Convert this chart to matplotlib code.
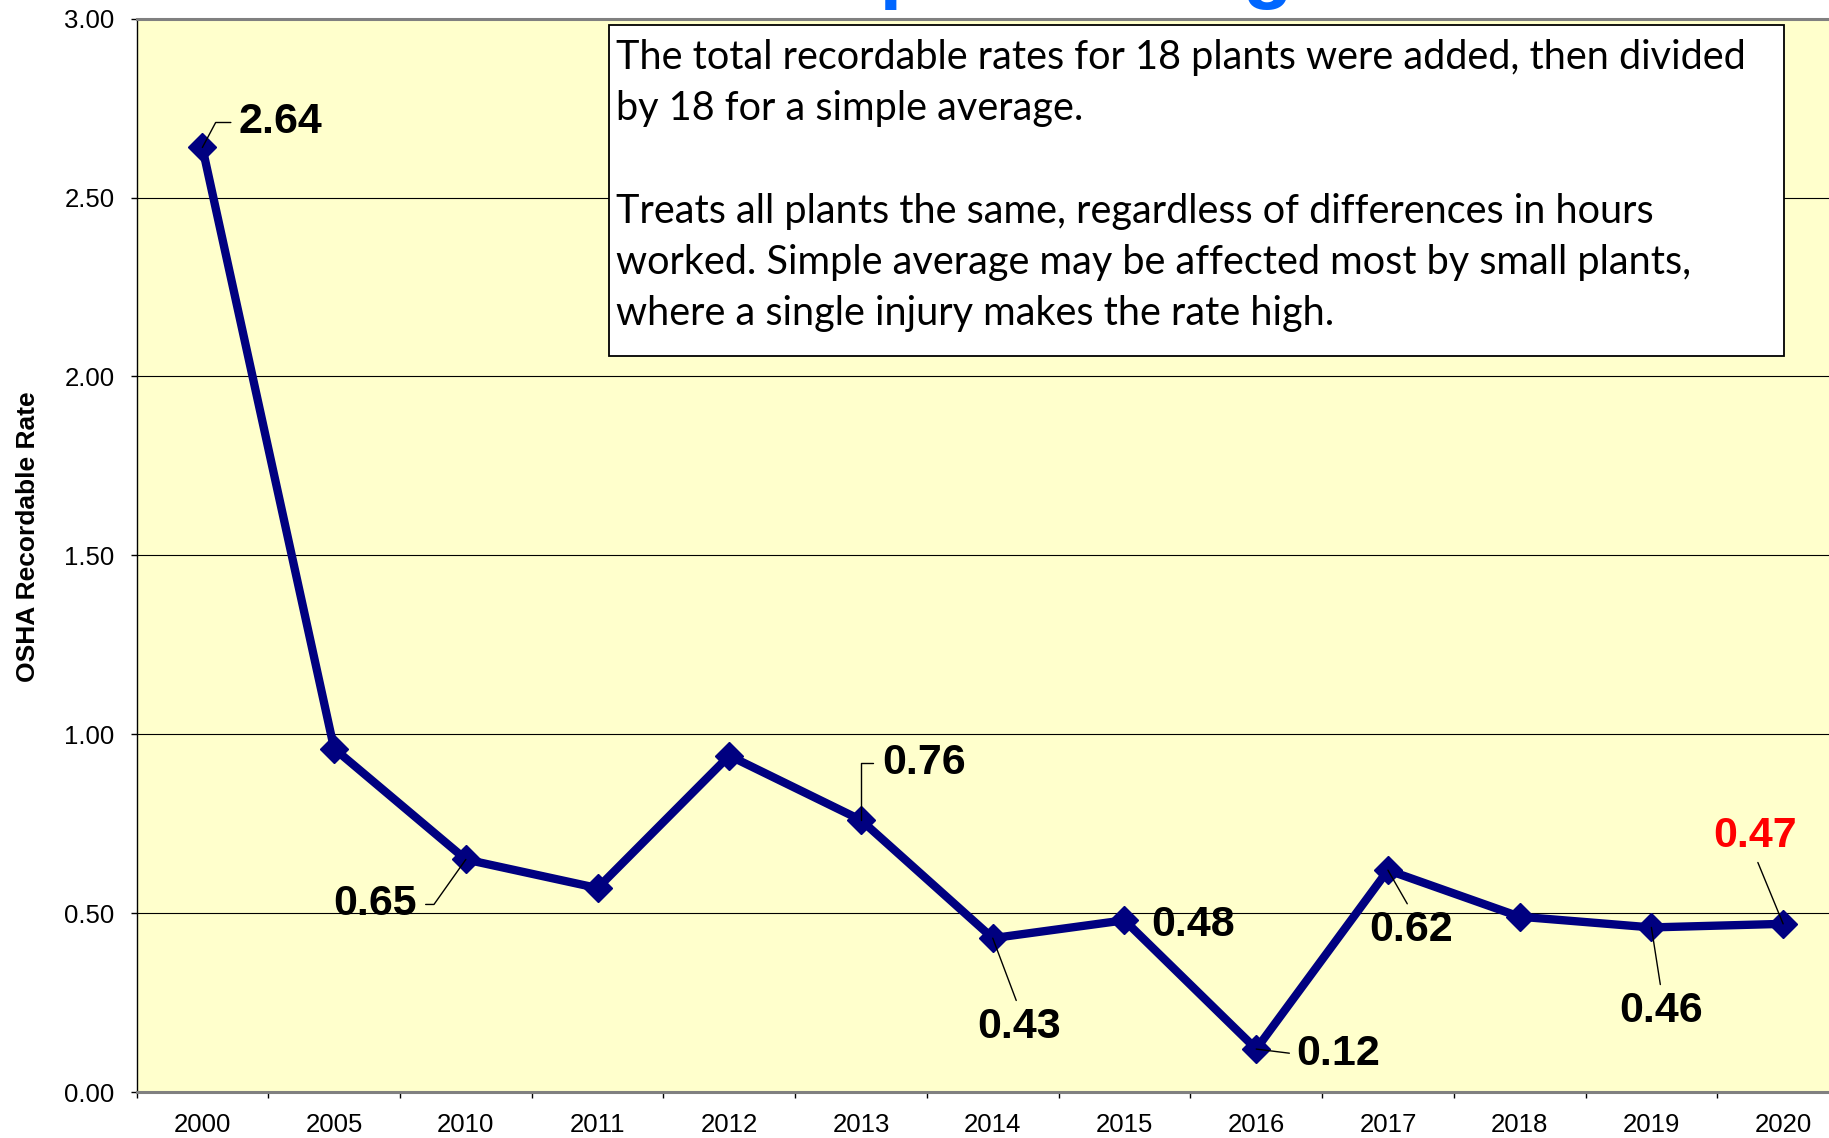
import matplotlib
matplotlib.use('Agg')
import matplotlib.pyplot as plt
from matplotlib.patches import Rectangle
import numpy as np

# ---------------- data ----------------
years = ['2000', '2005', '2010', '2011', '2012', '2013', '2014',
         '2015', '2016', '2017', '2018', '2019', '2020']
rates = [2.64, 0.96, 0.65, 0.57, 0.94, 0.76, 0.43, 0.48, 0.12, 0.62, 0.49, 0.46, 0.47]
y_ticks = [0.0, 0.5, 1.0, 1.5, 2.0, 2.5, 3.0]
labeled_years = ['2000', '2010', '2013', '2014', '2015', '2016', '2017', '2019', '2020']
label_texts = ['2.64', '0.65', '0.76', '0.43', '0.48', '0.12', '0.62', '0.46', '0.47']
title = 'Simple Average'
ylabel = 'OSHA Recordable Rate'
note_lines = [
    'The total recordable rates for 18 plants were added, then divided',
    'by 18 for a simple average.',
    '',
    'Treats all plants the same, regardless of differences in hours',
    'worked. Simple average may be affected most by small plants,',
    'where a single injury makes the rate high.',
]

# ---------------- layout / style ----------------
W, H, DPI = 1829, 1138, 100
plt.rcParams['font.family'] = ['Liberation Sans', 'DejaVu Sans']

def pt(v):
    return v * 72.0 / DPI

# label placement: (dx px, dy px down) from point to text baseline-centre,
# relpos on text, connection style (None = no leader), shrinkA
label_layout = {
    '2000': (78, -14, (0, 0.5), 'angle,angleA=0,angleB=62', 3.5),
    '2010': (-91, 56, (1, 0.5), 'angle,angleA=0,angleB=54.7', 4.5),
    '2013': (63, -46, (0, 0.5), 'angle,angleA=0,angleB=90', 4.5),
    '2014': (26, 100, (0.5, 1), 'arc3', 3.0),
    '2015': (69, 16, None, None, 0),
    '2016': (82, 16, (0, 0.5), 'arc3', 3.0),
    '2017': (23, 71, (0.5, 1), 'arc3', 3.0),
    '2019': (10, 95, (0.5, 1), 'arc3', 3.0),
    '2020': (-28, -77, (0.5, 0), 'arc3', 3.0),
}
label_colors = {'2020': '#FF0000'}

fig = plt.figure(figsize=(W / DPI, H / DPI), dpi=DPI)
fig.patch.set_facecolor('white')

ax_left, ax_right, ax_top, ax_bottom = 136.5, 1849.0, 18.7, 1092.0
ax = fig.add_axes([ax_left / W, (H - ax_bottom) / H,
                   (ax_right - ax_left) / W, (ax_bottom - ax_top) / H])
ax.set_facecolor('#FFFFCC')

x = np.arange(len(years))
ax.plot(x, rates, color='#000080', lw=6.0, marker='D', ms=14,
        mfc='#000080', mec='#000080', mew=1.0, zorder=3, clip_on=False)

ax.set_xlim(-0.5, len(years) - 0.5)
ax.set_ylim(0, 3)

# gridlines
ax.set_axisbelow(True)
ax.set_yticks(y_ticks)
ax.set_yticklabels(['%.2f' % v for v in y_ticks])
ax.yaxis.grid(True, color='black', lw=0.8)

# x ticks at category boundaries, labels at centres
ax.set_xticks(np.arange(-0.5, len(years), 1.0))
ax.set_xticklabels([''] * len(np.arange(-0.5, len(years), 1.0)))
ax.set_xticks(x, minor=True)
ax.set_xticklabels(years, minor=True)
ax.tick_params(axis='x', which='major', length=pt(6), width=1, direction='out', color='black')
ax.tick_params(axis='x', which='minor', length=0, pad=pt(21), labelsize=18.5)
ax.tick_params(axis='y', which='major', length=pt(6), width=1, direction='out',
               color='black', pad=pt(16), labelsize=18.5)

for s in ['top', 'bottom']:
    ax.spines[s].set_color('#808080')
    ax.spines[s].set_linewidth(2.2)
ax.spines['left'].set_color('black')
ax.spines['left'].set_linewidth(1.0)
ax.spines['right'].set_visible(False)

ax.set_ylabel(ylabel, fontsize=19, fontweight='bold')
ax.yaxis.set_label_coords((40 - ax_left) / (ax_right - ax_left),
                          (ax_bottom - 537) / (ax_bottom - ax_top))

# data labels
for yr, txt in zip(labeled_years, label_texts):
    i = years.index(yr)
    dx, dy, relpos, cstyle, shrA = label_layout[yr]
    kw = dict(xy=(i, rates[i]), xytext=(pt(dx), -pt(dy)), textcoords='offset points',
              ha='center', va='baseline', fontsize=31, fontweight='bold',
              color=label_colors.get(yr, 'black'), zorder=5, annotation_clip=False)
    if cstyle is not None:
        kw['arrowprops'] = dict(arrowstyle='-', color='black', lw=1.0,
                                shrinkA=shrA, shrinkB=0, relpos=relpos,
                                connectionstyle=cstyle)
    ax.annotate(txt, **kw)

# title (mostly above the visible area)
fig.text(1034 / W, 1 + 7 / H, title, ha='center', va='baseline', fontsize=59,
         fontweight='bold', color='#0066FF')

# note box
bx0, bx1, by0, by1 = 609, 1784, 24.5, 356
fig.patches.append(Rectangle((bx0 / W, (H - by1) / H), (bx1 - bx0) / W, (by1 - by0) / H,
                             transform=fig.transFigure, facecolor='white',
                             edgecolor='black', lw=1.3, zorder=10))
renderer = fig.canvas.get_renderer()
probe = fig.text(0, 0, note_lines[0], fontsize=20, family=['Lato', 'DejaVu Sans'])
wpx = probe.get_window_extent(renderer).width
probe.remove()
note_fs = 20 * 1136.0 / wpx
first_y, spacing = 57.5, 51.3
for k, line in enumerate(note_lines):
    if not line:
        continue
    fig.text(616 / W, 1 - (first_y + k * spacing) / H, line, ha='left', va='center',
             fontsize=note_fs, family=['Lato', 'DejaVu Sans'], color='black', zorder=11)

fig.savefig('out.png', dpi=DPI)
